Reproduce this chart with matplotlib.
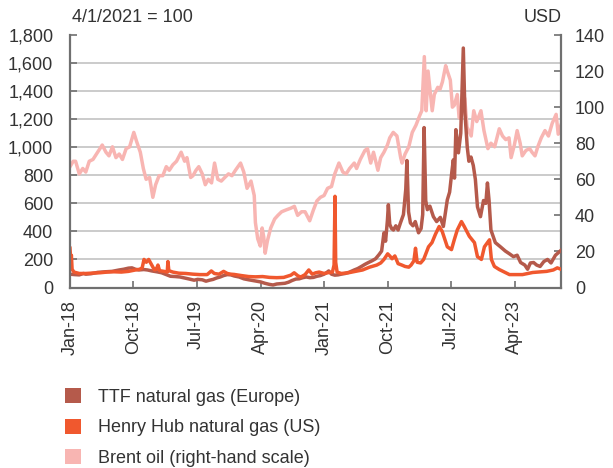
import matplotlib
matplotlib.use("Agg")
import matplotlib.pyplot as plt
import matplotlib.dates as mdates
from matplotlib.patches import Patch
import pandas as pd
import numpy as np

plt.rcParams['font.family'] = ['Liberation Sans', 'DejaVu Sans']

# TTF natural gas, index 4/1/2021 = 100
ttf_dates = ["2018-01-01", "2018-01-20", "2018-02-10", "2018-02-28", "2018-03-10", "2018-04-01",
             "2018-05-01", "2018-06-01", "2018-07-01", "2018-08-01", "2018-08-20", "2018-09-10",
             "2018-09-25", "2018-10-10", "2018-10-25", "2018-11-15", "2018-12-01", "2018-12-20",
             "2019-01-10", "2019-01-31", "2019-02-20", "2019-03-10", "2019-03-31", "2019-04-20",
             "2019-05-10", "2019-05-31", "2019-06-20", "2019-07-05", "2019-07-25", "2019-08-10",
             "2019-08-25", "2019-09-10", "2019-09-25", "2019-10-10", "2019-10-25", "2019-11-10",
             "2019-11-25", "2019-12-10", "2019-12-31", "2020-01-20", "2020-02-10", "2020-02-28",
             "2020-03-15", "2020-04-01", "2020-04-20", "2020-05-10", "2020-05-25", "2020-06-10",
             "2020-06-30", "2020-07-15", "2020-07-31", "2020-08-15", "2020-08-31", "2020-09-15",
             "2020-09-30", "2020-10-15", "2020-10-31", "2020-11-15", "2020-11-30", "2020-12-15",
             "2020-12-31", "2021-01-10", "2021-01-20", "2021-02-01", "2021-02-15", "2021-03-01",
             "2021-03-15", "2021-04-01", "2021-04-20", "2021-05-10", "2021-05-25", "2021-06-10",
             "2021-06-25", "2021-07-10", "2021-07-25", "2021-08-10", "2021-08-25", "2021-09-05",
             "2021-09-15", "2021-09-22", "2021-09-30", "2021-10-04", "2021-10-10", "2021-10-18",
             "2021-10-26", "2021-11-05", "2021-11-15", "2021-11-25", "2021-12-08", "2021-12-18",
             "2021-12-23", "2021-12-30", "2022-01-07", "2022-01-18", "2022-01-28", "2022-02-11",
             "2022-02-22", "2022-03-01", "2022-03-07", "2022-03-14", "2022-03-21", "2022-04-01",
             "2022-04-16", "2022-04-30", "2022-05-16", "2022-05-29", "2022-06-15", "2022-06-25",
             "2022-07-05", "2022-07-11", "2022-07-16", "2022-07-22", "2022-08-02", "2022-08-12",
             "2022-08-23", "2022-08-30", "2022-09-09", "2022-09-16", "2022-09-25", "2022-10-05",
             "2022-10-14", "2022-10-23", "2022-11-05", "2022-11-18", "2022-11-28", "2022-12-05",
             "2022-12-12", "2022-12-20", "2023-01-08", "2023-01-30", "2023-02-20", "2023-03-10",
             "2023-03-27", "2023-04-12", "2023-04-27", "2023-05-15", "2023-05-27", "2023-06-08",
             "2023-06-22", "2023-07-05", "2023-07-20", "2023-08-05", "2023-08-21", "2023-09-05",
             "2023-09-24", "2023-10-08", "2023-10-18"]
ttf_vals = [95, 92, 90, 100, 95, 98,
            108, 112, 115, 125, 130, 138,
            140, 130, 125, 128, 125, 118,
            112, 105, 92, 80, 78, 75,
            68, 60, 52, 58, 55, 45,
            52, 58, 68, 75, 85, 92,
            90, 82, 75, 62, 55, 50,
            45, 40, 30, 22, 18, 25,
            28, 30, 38, 50, 60, 62,
            70, 75, 70, 72, 80, 85,
            95, 105, 118, 95, 88, 90,
            95, 100, 110, 125, 135, 150,
            165, 178, 190, 205, 235, 260,
            390, 330, 480, 590, 450, 420,
            410, 440, 410, 460, 520, 700,
            905, 540, 460, 440, 470, 390,
            420, 520, 1140, 620, 555, 580,
            505, 470, 500, 435, 625, 680,
            830, 910, 780, 1125, 960, 1100,
            1707, 1245, 1000, 900, 930, 870,
            770, 575, 505, 620, 600, 745,
            620, 410, 320, 290, 260, 240,
            220, 230, 178, 160, 130, 175,
            178, 160, 150, 185, 200, 175,
            230, 250, 265]

# Henry Hub natural gas, index 4/1/2021 = 100
hh_dates = ["2018-01-01", "2018-01-04", "2018-01-07", "2018-01-10", "2018-01-18", "2018-02-10",
            "2018-03-10", "2018-04-10", "2018-05-10", "2018-06-10", "2018-07-10", "2018-08-10",
            "2018-09-10", "2018-10-10", "2018-10-28", "2018-11-08", "2018-11-16", "2018-11-26",
            "2018-12-06", "2018-12-16", "2018-12-31", "2019-01-08", "2019-01-15", "2019-01-22",
            "2019-02-10", "2019-02-24", "2019-02-27", "2019-03-03", "2019-03-20", "2019-04-15",
            "2019-05-15", "2019-06-15", "2019-07-15", "2019-08-15", "2019-09-02", "2019-09-15",
            "2019-10-05", "2019-10-25", "2019-11-10", "2019-11-25", "2019-12-10", "2020-01-10",
            "2020-02-10", "2020-03-10", "2020-04-10", "2020-05-10", "2020-06-10", "2020-07-10",
            "2020-08-10", "2020-08-24", "2020-09-10", "2020-09-22", "2020-10-10", "2020-10-26",
            "2020-11-10", "2020-11-25", "2020-12-10", "2020-12-31", "2021-01-15", "2021-02-05",
            "2021-02-12", "2021-02-16", "2021-02-19", "2021-02-25", "2021-03-15", "2021-04-15",
            "2021-05-15", "2021-06-15", "2021-07-15", "2021-08-15", "2021-09-01", "2021-09-15",
            "2021-10-01", "2021-10-10", "2021-10-20", "2021-11-01", "2021-11-15", "2021-12-01",
            "2021-12-15", "2021-12-31", "2022-01-10", "2022-01-22", "2022-01-29", "2022-02-05",
            "2022-02-20", "2022-03-05", "2022-03-26", "2022-04-10", "2022-04-25", "2022-05-11",
            "2022-05-24", "2022-06-15", "2022-07-03", "2022-07-15", "2022-07-28", "2022-08-15",
            "2022-08-27", "2022-09-18", "2022-10-10", "2022-10-23", "2022-11-09", "2022-11-22",
            "2022-12-05", "2022-12-14", "2022-12-22", "2023-01-04", "2023-01-25", "2023-03-10",
            "2023-05-05", "2023-06-18", "2023-08-17", "2023-09-15", "2023-10-02", "2023-10-18"]
hh_vals = [280, 200, 230, 130, 110, 100,
           100, 103, 105, 110, 112, 110,
           115, 125, 130, 140, 200, 180,
           200, 170, 125, 130, 160, 120,
           115, 110, 185, 120, 110, 102,
           100, 95, 92, 92, 118, 100,
           95, 115, 100, 95, 93, 85,
           78, 76, 78, 72, 70, 72,
           88, 105, 82, 75, 92, 125,
           95, 105, 110, 100, 105, 110,
           160, 650, 180, 110, 100, 105,
           115, 125, 145, 160, 175, 200,
           240, 225, 205, 225, 170, 160,
           150, 145, 160, 190, 280, 180,
           175, 200, 290, 320, 380, 435,
           400, 290, 270, 340, 410, 470,
           435, 365, 320, 220, 200, 290,
           320, 340, 200, 150, 128, 92,
           92, 107, 115, 125, 140, 130]

# Brent oil, USD
brent_dates = ["2018-01-01", "2018-01-15", "2018-01-25", "2018-02-10", "2018-02-25", "2018-03-10",
               "2018-03-25", "2018-04-10", "2018-04-25", "2018-05-10", "2018-05-20", "2018-06-05",
               "2018-06-18", "2018-07-03", "2018-07-18", "2018-08-01", "2018-08-15", "2018-08-31",
               "2018-09-15", "2018-10-03", "2018-10-15", "2018-10-31", "2018-11-13", "2018-11-25",
               "2018-12-10", "2018-12-24", "2019-01-05", "2019-01-20", "2019-02-05", "2019-02-20",
               "2019-03-05", "2019-03-20", "2019-04-05", "2019-04-25", "2019-05-10", "2019-05-20",
               "2019-06-05", "2019-06-15", "2019-06-28", "2019-07-10", "2019-07-25", "2019-08-07",
               "2019-08-20", "2019-09-03", "2019-09-16", "2019-09-30", "2019-10-15", "2019-10-30",
               "2019-11-15", "2019-11-30", "2019-12-15", "2020-01-06", "2020-01-20", "2020-02-03",
               "2020-02-20", "2020-03-05", "2020-03-10", "2020-03-20", "2020-03-31", "2020-04-08",
               "2020-04-15", "2020-04-21", "2020-05-01", "2020-05-15", "2020-06-01", "2020-06-15",
               "2020-07-01", "2020-07-20", "2020-08-10", "2020-08-25", "2020-09-08", "2020-09-25",
               "2020-10-10", "2020-10-30", "2020-11-15", "2020-11-30", "2020-12-15", "2020-12-31",
               "2021-01-15", "2021-02-01", "2021-02-15", "2021-03-05", "2021-03-22", "2021-04-05",
               "2021-04-20", "2021-05-10", "2021-05-20", "2021-06-05", "2021-06-25", "2021-07-06",
               "2021-07-20", "2021-08-01", "2021-08-20", "2021-09-01", "2021-09-15", "2021-09-30",
               "2021-10-10", "2021-10-25", "2021-11-10", "2021-11-26", "2021-12-02", "2021-12-15",
               "2021-12-31", "2022-01-15", "2022-01-31", "2022-02-15", "2022-02-25", "2022-03-08",
               "2022-03-16", "2022-03-24", "2022-04-05", "2022-04-11", "2022-04-20", "2022-05-05",
               "2022-05-15", "2022-05-25", "2022-06-08", "2022-06-15", "2022-06-28", "2022-07-07",
               "2022-07-15", "2022-07-28", "2022-08-05", "2022-08-15", "2022-08-29", "2022-09-08",
               "2022-09-26", "2022-10-07", "2022-10-20", "2022-11-07", "2022-11-20", "2022-12-07",
               "2022-12-20", "2023-01-05", "2023-01-25", "2023-02-08", "2023-02-22", "2023-03-08",
               "2023-03-17", "2023-03-31", "2023-04-12", "2023-04-25", "2023-05-04", "2023-05-20",
               "2023-06-05", "2023-06-15", "2023-06-28", "2023-07-10", "2023-07-25", "2023-08-10",
               "2023-08-25", "2023-09-10", "2023-09-27", "2023-10-06", "2023-10-18"]
brent_vals = [67, 70, 70, 63, 66, 64,
              70, 71, 74, 77, 79, 75,
              73, 78, 72, 74, 71, 77,
              78, 86, 81, 75, 66, 60,
              61, 50, 57, 62, 62, 67,
              65, 68, 70, 75, 70, 72,
              61, 62, 65, 67, 63, 57,
              60, 58, 69, 60, 59, 61,
              63, 62, 65, 69, 64, 55,
              59, 51, 36, 27, 23, 33,
              28, 19, 26, 33, 38, 40,
              42, 43, 44, 45, 40, 42,
              42, 37, 43, 48, 50, 51,
              55, 56, 63, 69, 64, 63,
              66, 69, 66, 71, 76, 77,
              69, 75, 65, 72, 75, 79,
              83, 86, 84, 72, 69, 74,
              78, 86, 90, 95, 98, 128,
              98, 120, 105, 98, 107, 111,
              110, 114, 123, 120, 115, 100,
              101, 107, 94, 95, 105, 89,
              84, 98, 92, 98, 87, 77,
              80, 78, 88, 84, 82, 83,
              72, 79, 87, 80, 73, 76,
              77, 75, 73, 78, 83, 87,
              84, 91, 96, 85, 90]

x_ticks = ["2018-01-01", "2018-10-01", "2019-07-01", "2020-04-01",
           "2021-01-01", "2021-10-01", "2022-07-01", "2023-04-01"]

c_ttf = "#B55A4B"
c_hh = "#F0582E"
c_brent = "#F8B5B2"
grey = "#707070"
txt = "#333333"

fig = plt.figure(figsize=(6.13, 4.68), dpi=100)
ax = fig.add_axes([70 / 613, 180.5 / 468, 491 / 613, 252.5 / 468])
ax2 = ax.twinx()
ax.set_zorder(2)
ax.patch.set_visible(False)
ax2.set_zorder(1)

ax2.plot(pd.to_datetime(brent_dates), brent_vals, color=c_brent, lw=2.5, solid_joinstyle='round')
ax.plot(pd.to_datetime(ttf_dates), ttf_vals, color=c_ttf, lw=2.5, solid_joinstyle='round')
ax.plot(pd.to_datetime(hh_dates), hh_vals, color=c_hh, lw=2.5, solid_joinstyle='round')

ax.set_xlim(pd.Timestamp("2018-01-01"), pd.Timestamp("2023-10-18"))
ax.set_ylim(0, 1800)
ax2.set_ylim(0, 140)

left_ticks = np.arange(0, 1801, 200)
ax.set_yticks(left_ticks)
ax.set_yticklabels([f"{v:,}" for v in left_ticks])
ax2.set_yticks(np.arange(0, 141, 20))
# gridlines drawn on the lower (Brent) axes so they sit behind every line
ax2.set_yticks(left_ticks / 1800 * 140, minor=True)
ax2.grid(which='minor', axis='y', color="#BDBDBD", lw=1.1)
ax2.tick_params(axis='y', which='minor', length=0)

ax.set_xticks(pd.to_datetime(x_ticks))
ax.xaxis.set_major_formatter(mdates.DateFormatter("%b-%y"))
plt.setp(ax.get_xticklabels(), rotation=90)

for a in (ax, ax2):
    for s in a.spines.values():
        s.set_visible(False)
ax.spines['left'].set_visible(True)
ax.spines['bottom'].set_visible(True)
ax2.spines['right'].set_visible(True)
for a, side in ((ax, 'left'), (ax, 'bottom'), (ax2, 'right')):
    a.spines[side].set_color(grey)
    a.spines[side].set_linewidth(1.6)

ax.tick_params(axis='both', which='major', direction='in', length=5, width=1.2, color=grey,
               labelsize=13, labelcolor=txt)
ax.tick_params(axis='y', pad=12)
ax.tick_params(axis='x', pad=9)
ax2.tick_params(axis='y', which='major', direction='in', length=5, width=1.2, color=grey,
                labelsize=13, labelcolor=txt, pad=10)

fig.text(72 / 613, 1 - 17 / 468, "4/1/2021 = 100", fontsize=13, color=txt, va='center', ha='left')
fig.text(562 / 613, 1 - 17 / 468, "USD", fontsize=13, color=txt, va='center', ha='right')

handles = [Patch(facecolor=c_ttf, label="TTF natural gas (Europe)"),
           Patch(facecolor=c_hh, label="Henry Hub natural gas (US)"),
           Patch(facecolor=c_brent, label="Brent oil (right-hand scale)")]
leg = fig.legend(handles=handles, loc='upper left', bbox_to_anchor=(58 / 613, 1 - 381 / 468),
                 frameon=False, fontsize=13, handlelength=0.9, handleheight=0.9,
                 handletextpad=0.9, labelspacing=0.7, borderaxespad=0)
for t in leg.get_texts():
    t.set_color(txt)

fig.savefig("out.png", dpi=100)
